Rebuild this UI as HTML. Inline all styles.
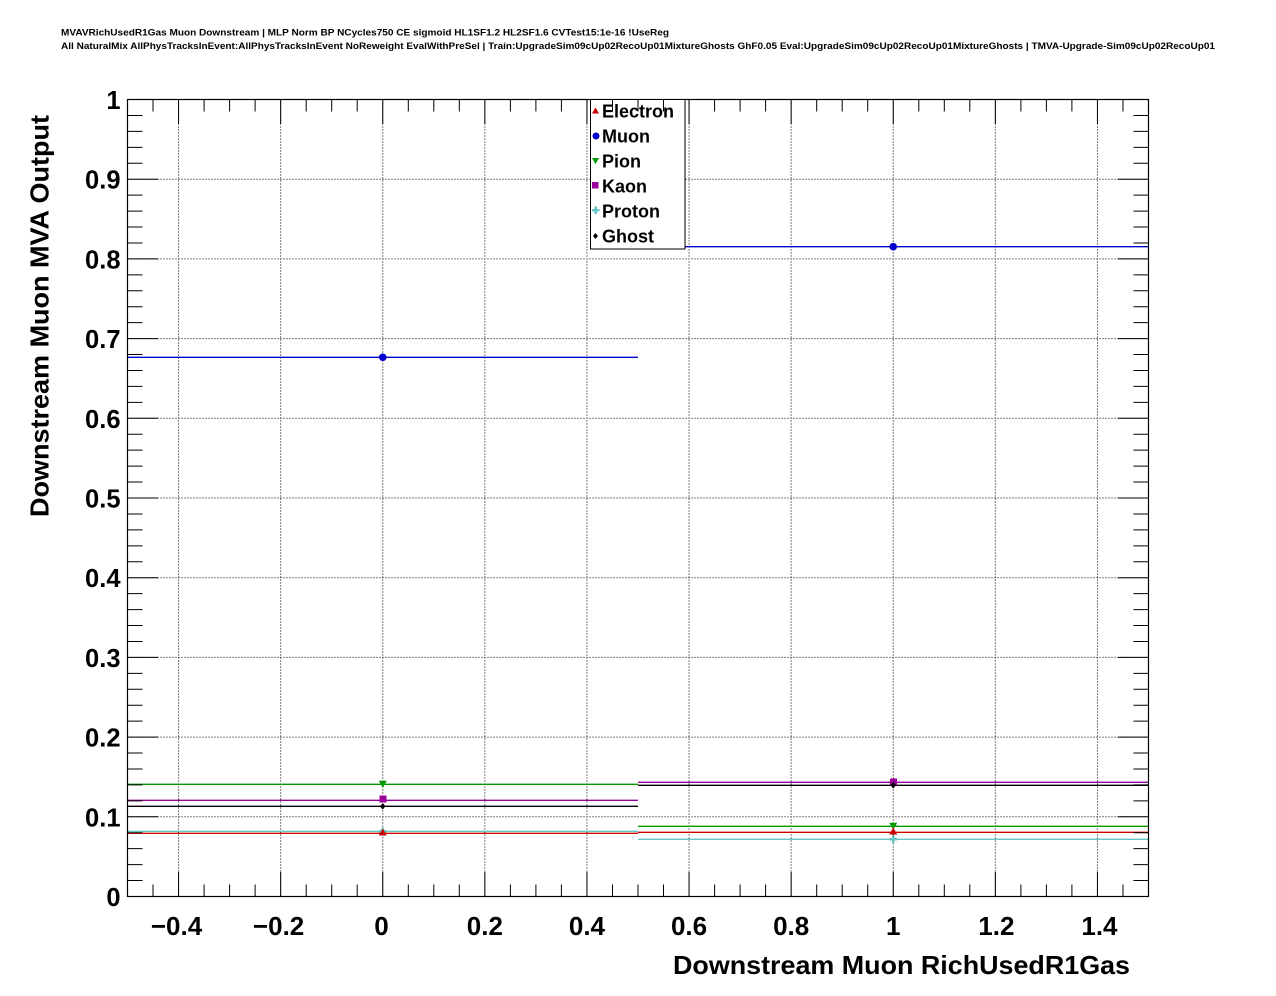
<!DOCTYPE html>
<html><head><meta charset="utf-8"><style>
html,body{margin:0;padding:0;background:#fff;}
svg{display:block;}
text{font-family:"Liberation Sans",Arial,sans-serif;font-weight:bold;fill:#000;}
</style></head><body>
<svg width="1276" height="996" viewBox="0 0 1276 996" xmlns="http://www.w3.org/2000/svg">
<rect x="0" y="0" width="1276" height="996" fill="#fff"/>
<text x="61" y="35.5" font-size="9.6" textLength="608" lengthAdjust="spacingAndGlyphs">MVAVRichUsedR1Gas Muon Downstream | MLP Norm BP NCycles750 CE sigmoid HL1SF1.2 HL2SF1.6 CVTest15:1e-16 !UseReg</text>
<text x="61" y="49" font-size="9.6" textLength="1154" lengthAdjust="spacingAndGlyphs">All NaturalMix AllPhysTracksInEvent:AllPhysTracksInEvent NoReweight EvalWithPreSel | Train:UpgradeSim09cUp02RecoUp01MixtureGhosts GhF0.05 Eval:UpgradeSim09cUp02RecoUp01MixtureGhosts | TMVA-Upgrade-Sim09cUp02RecoUp01</text>

<!-- grid -->
<g stroke="#000" stroke-width="1" stroke-dasharray="1 2" fill="none">
<line x1="178.55" y1="99.5" x2="178.55" y2="896.5"/>
<line x1="280.65" y1="99.5" x2="280.65" y2="896.5"/>
<line x1="382.75" y1="99.5" x2="382.75" y2="896.5"/>
<line x1="484.85" y1="99.5" x2="484.85" y2="896.5"/>
<line x1="586.95" y1="99.5" x2="586.95" y2="896.5"/>
<line x1="689.05" y1="99.5" x2="689.05" y2="896.5"/>
<line x1="791.15" y1="99.5" x2="791.15" y2="896.5"/>
<line x1="893.25" y1="99.5" x2="893.25" y2="896.5"/>
<line x1="995.35" y1="99.5" x2="995.35" y2="896.5"/>
<line x1="1097.45" y1="99.5" x2="1097.45" y2="896.5"/>
<line x1="127.5" y1="816.8" x2="1148.5" y2="816.8"/>
<line x1="127.5" y1="737.1" x2="1148.5" y2="737.1"/>
<line x1="127.5" y1="657.4" x2="1148.5" y2="657.4"/>
<line x1="127.5" y1="577.7" x2="1148.5" y2="577.7"/>
<line x1="127.5" y1="498" x2="1148.5" y2="498"/>
<line x1="127.5" y1="418.3" x2="1148.5" y2="418.3"/>
<line x1="127.5" y1="338.6" x2="1148.5" y2="338.6"/>
<line x1="127.5" y1="258.9" x2="1148.5" y2="258.9"/>
<line x1="127.5" y1="179.2" x2="1148.5" y2="179.2"/>
</g>

<!-- data lines -->
<g stroke-width="1.3" fill="none">
<line x1="127.5" y1="357.3" x2="638" y2="357.3" stroke="#0000cc"/>
<line x1="638" y1="246.7" x2="1148.5" y2="246.7" stroke="#0000cc"/>
<line x1="127.5" y1="784.3" x2="638" y2="784.3" stroke="#009900"/>
<line x1="638" y1="826.3" x2="1148.5" y2="826.3" stroke="#009900"/>
<line x1="127.5" y1="800.3" x2="638" y2="800.3" stroke="#990099"/>
<line x1="638" y1="782.3" x2="1148.5" y2="782.3" stroke="#990099"/>
<line x1="127.5" y1="806.3" x2="638" y2="806.3" stroke="#000"/>
<line x1="638" y1="785.3" x2="1148.5" y2="785.3" stroke="#000"/>
<line x1="127.5" y1="831.3" x2="638" y2="831.3" stroke="#66c6c6"/>
<line x1="638" y1="839.3" x2="1148.5" y2="839.3" stroke="#66c6c6"/>
<line x1="127.5" y1="833.3" x2="638" y2="833.3" stroke="#cc0000"/>
<line x1="638" y1="832.3" x2="1148.5" y2="832.3" stroke="#cc0000"/>
</g>

<!-- markers bin0 -->
<circle cx="382.75" cy="357.3" r="3.8" fill="#0000cc"/>
<polygon points="378.75,780.8 386.75,780.8 382.75,788" fill="#009900"/>
<rect x="379.5" y="795.5" width="7" height="7" fill="#990099"/>
<polygon points="382.75,803 385.5,806.3 382.75,809.6 380,806.3" fill="#000"/>
<path d="M381.5,827.5h2.5v2.5h2.5v2.5h-2.5v2.5h-2.5v-2.5h-2.5v-2.5h2.5z" fill="#66c6c6"/>
<polygon points="382.75,828.5 386.75,835.5 378.75,835.5" fill="#cc0000"/>
<!-- markers bin1 -->
<circle cx="893.25" cy="246.7" r="3.8" fill="#0000cc"/>
<rect x="890" y="778.5" width="7" height="7" fill="#990099"/>
<polygon points="893.25,782 896,785.3 893.25,788.6 890.5,785.3" fill="#000"/>
<polygon points="889.25,822.8 897.25,822.8 893.25,830" fill="#009900"/>
<polygon points="893.25,827.5 897.25,834.5 889.25,834.5" fill="#cc0000"/>
<path d="M892,835.5h2.5v2.5h2.5v2.5h-2.5v2.5h-2.5v-2.5h-2.5v-2.5h2.5z" fill="#66c6c6"/>

<!-- frame -->
<rect x="127.5" y="99.5" width="1021" height="797" fill="none" stroke="#000" stroke-width="1.2"/>

<!-- legend -->
<rect x="590.5" y="99.5" width="94.5" height="149.5" fill="#fff" stroke="#000" stroke-width="1"/>
<polygon points="595.5,107.5 599,113.5 592,113.5" fill="#cc0000"/>
<circle cx="596" cy="136" r="3.5" fill="#0000cc"/>
<polygon points="592,158 599,158 595.5,164" fill="#009900"/>
<rect x="592" y="182" width="6.5" height="6.5" fill="#990099"/>
<path d="M594.5,206.5h2.5v2.5h2.5v2.5h-2.5v2.5h-2.5v-2.5h-2.5v-2.5h2.5z" fill="#66c6c6"/>
<polygon points="595.5,233 598,236 595.5,239 593,236" fill="#000"/>
<text x="602" y="117.5" font-size="18">Electron</text>
<text x="602" y="142.5" font-size="18">Muon</text>
<text x="602" y="167.5" font-size="18">Pion</text>
<text x="602" y="192.5" font-size="18">Kaon</text>
<text x="602" y="217.5" font-size="18">Proton</text>
<text x="602" y="242.5" font-size="18">Ghost</text>

<!-- y labels -->
<g font-size="25.5" text-anchor="end">
<text x="120.5" y="906">0</text>
<text x="120.5" y="826.3">0.1</text>
<text x="120.5" y="746.6">0.2</text>
<text x="120.5" y="666.9">0.3</text>
<text x="120.5" y="587.2">0.4</text>
<text x="120.5" y="507.5">0.5</text>
<text x="120.5" y="427.8">0.6</text>
<text x="120.5" y="348.1">0.7</text>
<text x="120.5" y="268.4">0.8</text>
<text x="120.5" y="188.7">0.9</text>
<text x="120.5" y="109">1</text>
</g>
<!-- x labels -->
<g font-size="26" text-anchor="middle">
<text x="176.5" y="935">−0.4</text>
<text x="278.6" y="935">−0.2</text>
<text x="381.5" y="935">0</text>
<text x="484.85" y="935">0.2</text>
<text x="586.95" y="935">0.4</text>
<text x="689.05" y="935">0.6</text>
<text x="791.15" y="935">0.8</text>
<text x="893.25" y="935">1</text>
<text x="996.35" y="935">1.2</text>
<text x="1099.45" y="935">1.4</text>
</g>
<text x="1130" y="974" font-size="26" text-anchor="end" textLength="457" lengthAdjust="spacingAndGlyphs">Downstream Muon RichUsedR1Gas</text>
<text transform="translate(48.5,115) rotate(-90)" x="0" y="0" font-size="26" text-anchor="end" textLength="402" lengthAdjust="spacingAndGlyphs">Downstream Muon MVA Output</text>

<!-- ticks -->
<g stroke="#000" stroke-width="1">
<path d="M153.0,896.5v-12M178.55,896.5v-24.5M204.1,896.5v-12M229.6,896.5v-12M255.1,896.5v-12M280.65,896.5v-24.5M306.2,896.5v-12M331.7,896.5v-12M357.2,896.5v-12M382.75,896.5v-24.5M408.3,896.5v-12M433.8,896.5v-12M459.3,896.5v-12M484.85,896.5v-24.5M510.4,896.5v-12M535.9,896.5v-12M561.4,896.5v-12M586.95,896.5v-24.5M612.5,896.5v-12M638.0,896.5v-12M663.5,896.5v-12M689.05,896.5v-24.5M714.6,896.5v-12M740.1,896.5v-12M765.6,896.5v-12M791.15,896.5v-24.5M816.7,896.5v-12M842.2,896.5v-12M867.7,896.5v-12M893.25,896.5v-24.5M918.8,896.5v-12M944.3,896.5v-12M969.8,896.5v-12M995.35,896.5v-24.5M1020.9,896.5v-12M1046.4,896.5v-12M1071.9,896.5v-12M1097.45,896.5v-24.5M1123.0,896.5v-12"/>
<path d="M153.0,99.5v12M178.55,99.5v24.5M204.1,99.5v12M229.6,99.5v12M255.1,99.5v12M280.65,99.5v24.5M306.2,99.5v12M331.7,99.5v12M357.2,99.5v12M382.75,99.5v24.5M408.3,99.5v12M433.8,99.5v12M459.3,99.5v12M484.85,99.5v24.5M510.4,99.5v12M535.9,99.5v12M561.4,99.5v12M586.95,99.5v24.5M612.5,99.5v12M638.0,99.5v12M663.5,99.5v12M689.05,99.5v24.5M714.6,99.5v12M740.1,99.5v12M765.6,99.5v12M791.15,99.5v24.5M816.7,99.5v12M842.2,99.5v12M867.7,99.5v12M893.25,99.5v24.5M918.8,99.5v12M944.3,99.5v12M969.8,99.5v12M995.35,99.5v24.5M1020.9,99.5v12M1046.4,99.5v12M1071.9,99.5v12M1097.45,99.5v24.5M1123.0,99.5v12"/>
<path d="M127.5,880.56h15M127.5,864.62h15M127.5,848.68h15M127.5,832.74h15M127.5,816.8h31M127.5,800.86h15M127.5,784.92h15M127.5,768.98h15M127.5,753.04h15M127.5,737.1h31M127.5,721.16h15M127.5,705.22h15M127.5,689.28h15M127.5,673.34h15M127.5,657.4h31M127.5,641.46h15M127.5,625.52h15M127.5,609.58h15M127.5,593.64h15M127.5,577.7h31M127.5,561.76h15M127.5,545.82h15M127.5,529.88h15M127.5,513.94h15M127.5,498h31M127.5,482.06h15M127.5,466.12h15M127.5,450.18h15M127.5,434.24h15M127.5,418.3h31M127.5,402.36h15M127.5,386.42h15M127.5,370.48h15M127.5,354.54h15M127.5,338.6h31M127.5,322.66h15M127.5,306.72h15M127.5,290.78h15M127.5,274.84h15M127.5,258.9h31M127.5,242.96h15M127.5,227.02h15M127.5,211.08h15M127.5,195.14h15M127.5,179.2h31M127.5,163.26h15M127.5,147.32h15M127.5,131.38h15M127.5,115.44h15"/>
<path d="M1148.5,880.56h-15M1148.5,864.62h-15M1148.5,848.68h-15M1148.5,832.74h-15M1148.5,816.8h-31M1148.5,800.86h-15M1148.5,784.92h-15M1148.5,768.98h-15M1148.5,753.04h-15M1148.5,737.1h-31M1148.5,721.16h-15M1148.5,705.22h-15M1148.5,689.28h-15M1148.5,673.34h-15M1148.5,657.4h-31M1148.5,641.46h-15M1148.5,625.52h-15M1148.5,609.58h-15M1148.5,593.64h-15M1148.5,577.7h-31M1148.5,561.76h-15M1148.5,545.82h-15M1148.5,529.88h-15M1148.5,513.94h-15M1148.5,498h-31M1148.5,482.06h-15M1148.5,466.12h-15M1148.5,450.18h-15M1148.5,434.24h-15M1148.5,418.3h-31M1148.5,402.36h-15M1148.5,386.42h-15M1148.5,370.48h-15M1148.5,354.54h-15M1148.5,338.6h-31M1148.5,322.66h-15M1148.5,306.72h-15M1148.5,290.78h-15M1148.5,274.84h-15M1148.5,258.9h-31M1148.5,242.96h-15M1148.5,227.02h-15M1148.5,211.08h-15M1148.5,195.14h-15M1148.5,179.2h-31M1148.5,163.26h-15M1148.5,147.32h-15M1148.5,131.38h-15M1148.5,115.44h-15"/>
</g>
</svg>
</body></html>
